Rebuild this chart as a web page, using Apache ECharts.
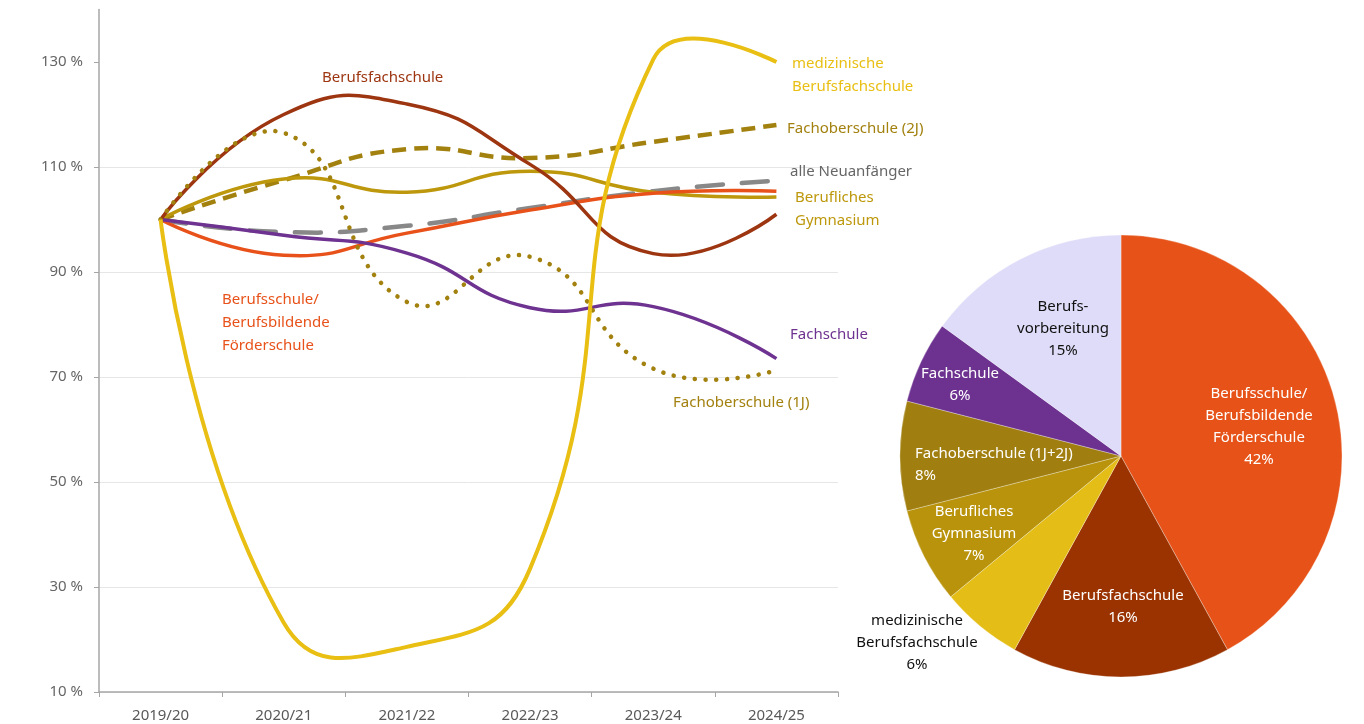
<!DOCTYPE html>
<html><head><meta charset="utf-8">
<script src="https://cdn.jsdelivr.net/npm/echarts@6/dist/echarts.min.js"></script>
<style>html,body{margin:0;padding:0;background:#fff}#c{width:1364px;height:724px}</style>
</head><body><div id="c"></div>
<script>
// ---- data ----
const years = ['2019/20','2020/21','2021/22','2022/23','2023/24','2024/25'];
const yMin = 10, yMax = 140, yStep = 20;
const yTicks = [10, 30, 50, 70, 90, 110, 130];
const berufsfachschule   = [100, 120, 122, 110.5, 93.5, 101];
const medBerufsfach      = [100, 23.2, 18.6, 33.5, 130.5, 130];
const fos2J              = [100, 107.5, 113.4, 111.7, 114.8, 118];
const beruflGymnasium    = [100, 107.7, 105.2, 109.2, 105.2, 104.3];
const alleNeuanfaenger   = [100, 97.6, 98.8, 102.2, 105.4, 107.4];
const berufsschule       = [100, 93.2, 97.4, 101.8, 105, 105.4];
const fachschule         = [100, 97, 93.6, 83.2, 83.4, 73.5];
const fos1J              = [100, 116.5, 84.3, 92.9, 71.6, 71.3];

const pieNames  = ['Berufsschule/\nBerufsbildende\nFörderschule','Berufsfachschule','medizinische\nBerufsfachschule','Berufliches\nGymnasium','Fachoberschule (1J+2J)','Fachschule','Berufs-\nvorbereitung'];
const pieValues = [42, 16, 6, 7, 8, 6, 15];

// ---- styles ----
const C = {
  orange:'#e8521a', darkred:'#9c3510', yellow:'#e8bf12', gold:'#bd980c', olive:'#a2810f',
  grey:'#888888', purple:'#6e3290'
};
const pieColors = ['#e65217','#9a3300','#e5bd17','#b8930b','#a07e0f','#6d3290','#dedcf8'];
const pieLabelColors = ['#fff','#fff','#111','#fff','#fff','#fff','#111'];
const pieCenter = [1121, 456], pieR = 221;
const pieLabelOffsets = [[138,-29],[2,151],[-204,187],[-147,78],[-206,9],[-161,-71],[-58,-127]];
const pieLabelAlign = ['center','center','center','center','left','center','center'];
const FONT = '"Noto Sans", sans-serif';
const SMOOTH = 0.5;

// cardinal-style bezier smoothing through the points (given in pixel space from the axes)
function smoothPath(pts, s) {
  let d = 'M' + pts[0][0] + ',' + pts[0][1];
  let cp0 = pts[0];
  for (let k = 1; k < pts.length; k++) {
    const p = pts[k], prev = pts[k - 1];
    let cp1, nextCp;
    if (k === pts.length - 1) { cp1 = p; nextCp = p; }
    else {
      const nx = pts[k + 1];
      const vx = nx[0] - prev[0], vy = nx[1] - prev[1];
      const l0 = Math.hypot(p[0] - prev[0], p[1] - prev[1]);
      const l1 = Math.hypot(nx[0] - p[0], nx[1] - p[1]);
      const r = l1 / (l0 + l1);
      cp1 = [p[0] - vx * s * (1 - r), p[1] - vy * s * (1 - r)];
      nextCp = [p[0] + vx * s * r, p[1] + vy * s * r];
    }
    d += ' C' + cp0[0] + ',' + cp0[1] + ' ' + cp1[0] + ',' + cp1[1] + ' ' + p[0] + ',' + p[1];
    cp0 = nextCp;
  }
  return d;
}

function curveSeries(name, values, color, width, dash, cap, z) {
  return {
    name, type:'custom', coordinateSystem:'cartesian2d', z, clip:false, silent:true,
    data: values.map((v, i) => [i, v]),
    encode:{x:0, y:1},
    renderItem: (params, api) => {
      if (params.dataIndex !== 0) return null;
      const pts = values.map((v, i) => api.coord([i, v]));
      return {
        type:'path',
        shape:{pathData: smoothPath(pts, SMOOTH)},
        style:{fill:'none', stroke:color, lineWidth:width, lineDash:dash, lineCap:cap}
      };
    }
  };
}

const chart = echarts.init(document.getElementById('c'), null, {renderer:'canvas'});
const labelTxt = (text, x, y, color) => ({
  type:'text', x, y, z:100,
  style:{text, x:0, y:0, fill:color, font:'15px ' + FONT, verticalAlign:'middle', align:'left', lineHeight:23}
});

chart.setOption({
  animation:false,
  backgroundColor:'#fff',
  grid:{left:99, right:526, top:9.5, bottom:32, containLabel:false},
  xAxis:{
    type:'category', data:years, boundaryGap:true,
    axisLine:{lineStyle:{color:'#a6a6a6', width:1.5}},
    axisTick:{show:true, length:5, lineStyle:{color:'#a6a6a6'}},
    axisLabel:{color:'#595959', fontSize:15, fontFamily:FONT, margin:16},
    splitLine:{show:false}
  },
  yAxis:{
    type:'value', min:yMin, max:yMax, interval:yStep,
    axisLine:{show:true, lineStyle:{color:'#a6a6a6', width:1.5}},
    axisTick:{show:true, length:5, customValues:yTicks, lineStyle:{color:'#a6a6a6'}},
    axisLabel:{color:'#666', fontSize:15, fontFamily:FONT, margin:16, customValues:yTicks,
      formatter: v => (v === yMax ? '' : v + ' %')},
    splitLine:{show:true, showMaxLine:false, lineStyle:{color:'#e6e6e6', width:1}}
  },
  series:[
    curveSeries('alle Neuanfänger', alleNeuanfaenger, C.grey, 4.5, [26,19], 'round', 2),
    curveSeries('Fachoberschule (2J)', fos2J, C.olive, 4.5, [14,8], 'butt', 3),
    curveSeries('Berufliches Gymnasium', beruflGymnasium, C.gold, 3.5, null, 'butt', 3),
    curveSeries('Berufsschule', berufsschule, C.orange, 3.5, null, 'butt', 4),
    curveSeries('Fachschule', fachschule, C.purple, 3.5, null, 'butt', 4),
    curveSeries('Berufsfachschule', berufsfachschule, C.darkred, 3.5, null, 'butt', 5),
    curveSeries('Fachoberschule (1J)', fos1J, C.olive, 4.5, [0.1,10.6], 'round', 6),
    curveSeries('medizinische Berufsfachschule', medBerufsfach, C.yellow, 4, null, 'butt', 7),
    {
      type:'pie', center:pieCenter, radius:[0, pieR], startAngle:90, clockwise:true,
      avoidLabelOverlap:false, silent:true, z:10,
      data: pieValues.map((v, i) => ({
        name:pieNames[i], value:v,
        itemStyle:{color:pieColors[i]},
        label:{color:pieLabelColors[i], align:pieLabelAlign[i]}
      })),
      itemStyle:{borderColor:'rgba(255,255,255,0.5)', borderWidth:0.6},
      label:{show:true, position:'inside', fontSize:15, fontFamily:FONT, lineHeight:22,
        formatter: p => p.name + '\n' + Math.round(p.percent) + '%'},
      labelLine:{show:false},
      labelLayout: function (p) {
        const o = pieLabelOffsets[p.dataIndex];
        return {x: pieCenter[0] + o[0], y: pieCenter[1] + o[1],
                align: pieLabelAlign[p.dataIndex], verticalAlign:'middle'};
      },
      emphasis:{disabled:true}
    }
  ],
  graphic:[
    labelTxt('Berufsfachschule', 322, 78, C.darkred),
    labelTxt('medizinische\nBerufsfachschule', 792, 75, C.yellow),
    labelTxt('Fachoberschule (2J)', 787, 129, C.olive),
    labelTxt('alle Neuanfänger', 790, 172, '#666'),
    labelTxt('Berufliches\nGymnasium', 795, 209, C.gold),
    labelTxt('Fachschule', 790, 335, C.purple),
    labelTxt('Fachoberschule (1J)', 673, 403, C.olive),
    labelTxt('Berufsschule/\nBerufsbildende\nFörderschule', 222, 323, C.orange)
  ]
});
</script></body></html>
